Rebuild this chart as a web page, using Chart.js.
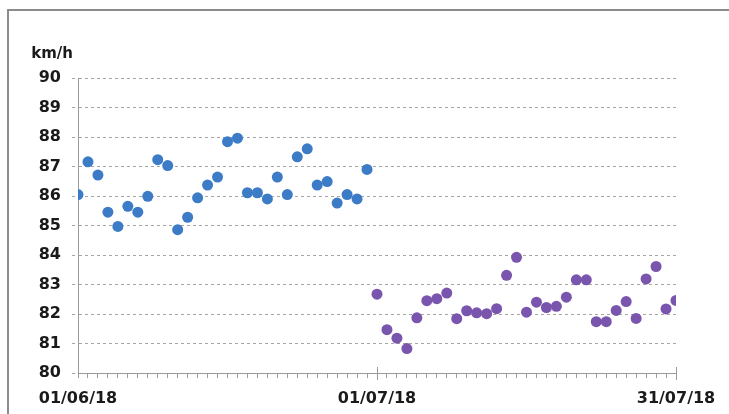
<!DOCTYPE html>
<html>
<head>
<meta charset="utf-8">
<script src="https://cdn.jsdelivr.net/npm/chart.js@4.4.1/dist/chart.umd.min.js"></script>
<style>
    html, body { margin: 0; padding: 0; background: #fff; overflow: hidden; width: 729px; height: 414px; }
    #marco { position: absolute; left: 7px; top: 9px; width: 780px; height: 460px;
             border-left: 2px solid #8c8c8c; border-top: 2px solid #8c8c8c; }
    #grafico { position: absolute; left: 0; top: 0; }
</style>
</head>
<body>
<div id="marco"></div>
<canvas id="grafico" width="729" height="414"></canvas>
<script>
// velocidades medias diarias (km/h)
const velocidadJunio = [
    86.05, 87.16, 86.71, 85.45, 84.97, 85.65, 85.45, 85.99, 87.23, 87.03,
    84.86, 85.28, 85.94, 86.37, 86.64, 87.84, 87.96, 86.11, 86.11, 85.90,
    86.64, 86.05, 87.33, 87.60, 86.37, 86.49, 85.76, 86.05, 85.90, 86.90
];
const velocidadJulio = [
    82.67, 81.47, 81.18, 80.83, 81.87, 82.45, 82.52, 82.71, 81.84, 82.11,
    82.04, 82.01, 82.18, 83.31, 83.92, 82.06, 82.40, 82.22, 82.26, 82.57,
    83.16, 83.16, 81.74, 81.74, 82.12, 82.42, 81.85, 83.19, 83.61, 82.17,
    82.46
];
const inicioJulio = 30;          // dia 0 = 01/06/18
const totalDias = 61;
const diasEtiqueta = [0, 30, 60];
const textosEtiqueta = ['01/06/18', '01/07/18', '31/07/18'];
const diasMayores = [30, 60];

const colorJunio = '#3c7bc6';
const colorJulio = '#7a55ad';
const colorTexto = '#1a1a1a';
const colorEje = '#9a9a9a';
const fuente = 'DejaVu Sans';

// marcas mayores del eje x y la unidad
const extrasPlugin = {
    id: 'extras',
    afterDraw(chart) {
        const ctx = chart.ctx;
        const x = chart.scales.x;
        const area = chart.chartArea;
        ctx.save();
        ctx.strokeStyle = colorEje;
        ctx.lineWidth = 1;
        diasMayores.forEach(d => {
            const px = Math.round(x.getPixelForValue(d)) + 0.5;
            ctx.beginPath();
            ctx.moveTo(px, area.bottom - 6);
            ctx.lineTo(px, area.bottom + 7);
            ctx.stroke();
        });
        ctx.fillStyle = colorTexto;
        ctx.font = `bold 15px "${fuente}"`;
        ctx.textAlign = 'right';
        ctx.textBaseline = 'middle';
        ctx.fillText('km/h', area.left - 5, area.top - 24);
        ctx.restore();
    }
};

const ctx = document.getElementById('grafico').getContext('2d');
new Chart(ctx, {
    type: 'scatter',
    data: {
        datasets: [
            {
                label: 'junio',
                data: velocidadJunio.map((v, i) => ({ x: i, y: v })),
                backgroundColor: colorJunio,
                borderColor: colorJunio,
                borderWidth: 0,
                pointRadius: 5.5,
                pointHoverRadius: 5.5
            },
            {
                label: 'julio',
                data: velocidadJulio.map((v, i) => ({ x: inicioJulio + i, y: v })),
                backgroundColor: colorJulio,
                borderColor: colorJulio,
                borderWidth: 0,
                pointRadius: 5.5,
                pointHoverRadius: 5.5
            }
        ]
    },
    options: {
        responsive: false,
        animation: false,
        devicePixelRatio: 1,
        layout: { padding: { left: 0, right: 53, top: 78, bottom: 0 } },
        plugins: {
            legend: { display: false },
            tooltip: { enabled: false },
            title: { display: false }
        },
        scales: {
            x: {
                type: 'linear',
                min: 0,
                max: totalDias - 1,
                afterBuildTicks: (axis) => {
                    const t = [];
                    for (let d = 0; d < totalDias; d++) t.push({ value: d });
                    axis.ticks = t;
                },
                afterFit: (scale) => { scale.height = 41; },
                ticks: {
                    autoSkip: false,
                    maxRotation: 0,
                    padding: 11,
                    color: colorTexto,
                    font: { family: fuente, size: 16, weight: 'bold' },
                    callback: (v) => {
                        const k = diasEtiqueta.indexOf(v);
                        return k >= 0 ? textosEtiqueta[k] : '';
                    }
                },
                grid: {
                    drawOnChartArea: false,
                    drawTicks: true,
                    tickLength: 5,
                    tickColor: colorEje,
                    tickWidth: 1
                },
                border: { display: true, color: colorEje, width: 1 }
            },
            y: {
                min: 80,
                max: 90,
                afterFit: (scale) => { scale.width = 78; },
                ticks: {
                    stepSize: 1,
                    padding: 11,
                    color: colorTexto,
                    font: { family: fuente, size: 16, weight: 'bold' }
                },
                grid: {
                    color: '#a6a6a6',
                    lineWidth: 1,
                    tickLength: 6,
                    tickColor: '#a6a6a6',
                    tickBorderDash: [3, 3]
                },
                border: { display: true, color: colorEje, width: 1, dash: [3, 3] }
            }
        }
    },
    plugins: [extrasPlugin]
});
</script>
</body>
</html>
